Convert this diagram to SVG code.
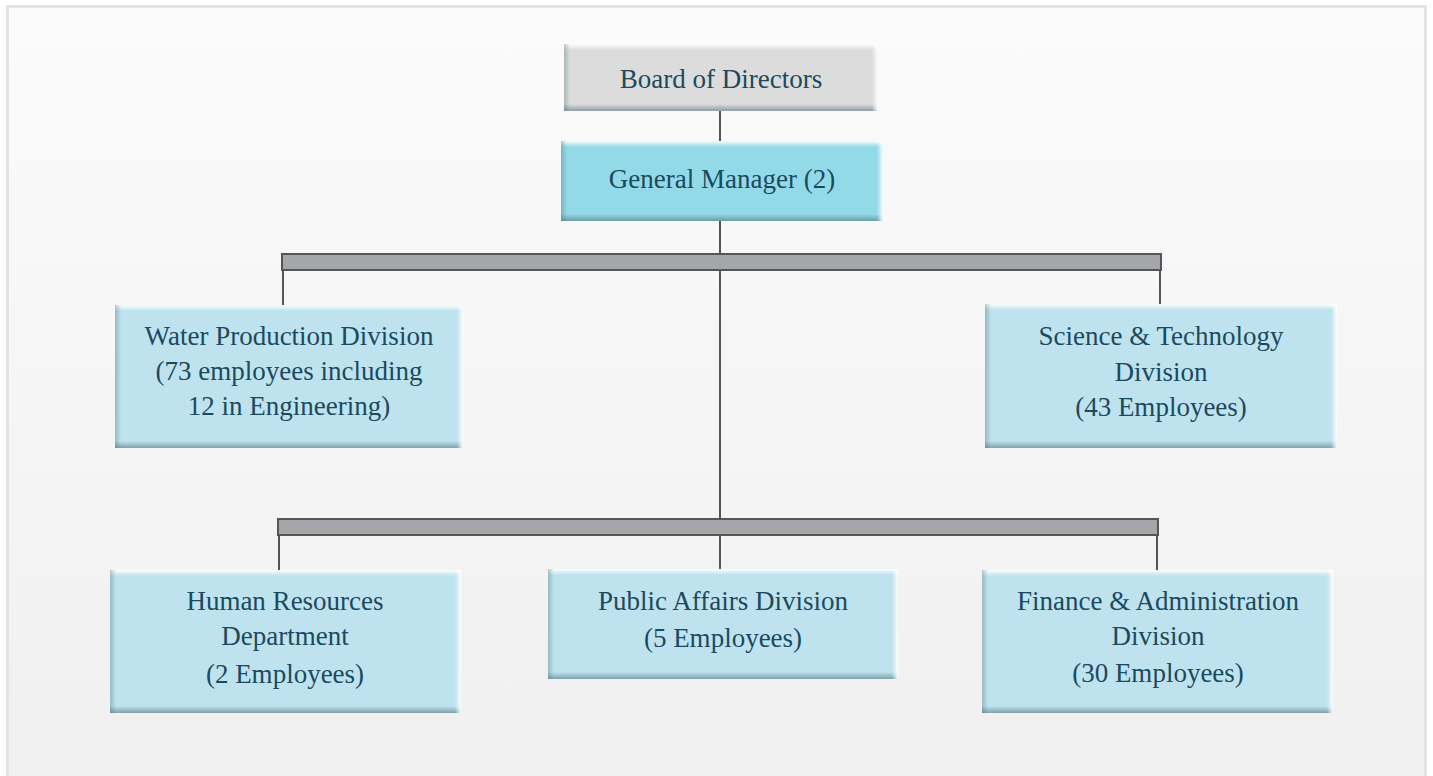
<svg xmlns="http://www.w3.org/2000/svg" width="1433" height="776" viewBox="0 0 1433 776">
  <defs>
    <linearGradient id="panelFill" x1="0" y1="0" x2="0" y2="1">
      <stop offset="0" stop-color="#fbfbfb"/>
      <stop offset="1" stop-color="#f0f0f0"/>
    </linearGradient>
    <!-- bevel edges -->
    <linearGradient id="edgeTop" x1="0" y1="0" x2="0" y2="1">
      <stop offset="0" stop-color="#ffffff" stop-opacity="0.95"/>
      <stop offset="1" stop-color="#ffffff" stop-opacity="0"/>
    </linearGradient>
    <linearGradient id="edgeBottom" x1="0" y1="0" x2="0" y2="1">
      <stop offset="0" stop-color="#4d6b74" stop-opacity="0"/>
      <stop offset="1" stop-color="#4d6b74" stop-opacity="0.55"/>
    </linearGradient>
    <linearGradient id="edgeLeft" x1="0" y1="0" x2="1" y2="0">
      <stop offset="0" stop-color="#4d6b74" stop-opacity="0.35"/>
      <stop offset="1" stop-color="#4d6b74" stop-opacity="0"/>
    </linearGradient>
    <linearGradient id="edgeRight" x1="0" y1="0" x2="1" y2="0">
      <stop offset="0" stop-color="#ffffff" stop-opacity="0"/>
      <stop offset="1" stop-color="#ffffff" stop-opacity="0.95"/>
    </linearGradient>
  </defs>
  <style>
    .lbl { font-family: "Liberation Serif", "Times New Roman", serif; font-size: 27px; fill: #1b4a5e; text-anchor: middle; }
    .gray { fill: #dcdcdc; }
    .cyan { fill: #92dae8; }
    .pale { fill: #bee3ee; }
    .wire { stroke: #555555; stroke-width: 2; fill: none; }
    .bar { fill: #a4a6a9; stroke: #555555; stroke-width: 2; }
  </style>

  <!-- page panel -->
  <rect x="0" y="0" width="1433" height="776" fill="#ffffff"/>
  <rect x="7.5" y="6.5" width="1418" height="772" fill="url(#panelFill)" stroke="#e3e3e3" stroke-width="3"/>

  <!-- connectors -->
  <g id="connectors">
    <line class="wire" x1="720" y1="110" x2="720" y2="142"/>
    <line class="wire" x1="720" y1="220" x2="720" y2="520"/>
    <rect class="bar" x="282" y="254" width="879" height="16"/>
    <line class="wire" x1="283" y1="270" x2="283" y2="306"/>
    <line class="wire" x1="1160" y1="270" x2="1160" y2="305"/>
    <rect class="bar" x="278" y="519" width="880" height="16"/>
    <line class="wire" x1="279" y1="535" x2="279" y2="571"/>
    <line class="wire" x1="720" y1="535" x2="720" y2="570"/>
    <line class="wire" x1="1157" y1="535" x2="1157" y2="571"/>
  </g>

  <g id="board">
    <rect class="gray" x="564" y="44" width="314" height="67"/>
    <rect x="564" y="44" width="314" height="6" fill="url(#edgeTop)"/>
    <rect x="564" y="104" width="314" height="7" fill="url(#edgeBottom)"/>
    <rect x="564" y="44" width="6" height="67" fill="url(#edgeLeft)"/>
    <rect x="872" y="44" width="6" height="67" fill="url(#edgeRight)"/>
    <text class="lbl" x="721" y="88">Board of Directors</text>
  </g>

  <g id="general-manager">
    <rect class="cyan" x="561" y="141" width="322" height="80"/>
    <rect x="561" y="141" width="322" height="6" fill="url(#edgeTop)"/>
    <rect x="561" y="214" width="322" height="7" fill="url(#edgeBottom)"/>
    <rect x="561" y="141" width="6" height="80" fill="url(#edgeLeft)"/>
    <rect x="877" y="141" width="6" height="80" fill="url(#edgeRight)"/>
    <text class="lbl" x="722" y="188">General Manager (2)</text>
  </g>

  <g id="water-production">
    <rect class="pale" x="115" y="305" width="348" height="143"/>
    <rect x="115" y="305" width="348" height="6" fill="url(#edgeTop)"/>
    <rect x="115" y="441" width="348" height="7" fill="url(#edgeBottom)"/>
    <rect x="115" y="305" width="6" height="143" fill="url(#edgeLeft)"/>
    <rect x="457" y="305" width="6" height="143" fill="url(#edgeRight)"/>
    <text class="lbl" x="289" y="345">Water Production Division</text>
    <text class="lbl" x="289" y="380">(73 employees including</text>
    <text class="lbl" x="289" y="415">12 in Engineering)</text>
  </g>

  <g id="science-technology">
    <rect class="pale" x="985" y="304" width="352" height="144"/>
    <rect x="985" y="304" width="352" height="6" fill="url(#edgeTop)"/>
    <rect x="985" y="441" width="352" height="7" fill="url(#edgeBottom)"/>
    <rect x="985" y="304" width="6" height="144" fill="url(#edgeLeft)"/>
    <rect x="1331" y="304" width="6" height="144" fill="url(#edgeRight)"/>
    <text class="lbl" x="1161" y="345">Science &amp; Technology</text>
    <text class="lbl" x="1161" y="381">Division</text>
    <text class="lbl" x="1161" y="416">(43 Employees)</text>
  </g>

  <g id="human-resources">
    <rect class="pale" x="110" y="570" width="351" height="143"/>
    <rect x="110" y="570" width="351" height="6" fill="url(#edgeTop)"/>
    <rect x="110" y="706" width="351" height="7" fill="url(#edgeBottom)"/>
    <rect x="110" y="570" width="6" height="143" fill="url(#edgeLeft)"/>
    <rect x="455" y="570" width="6" height="143" fill="url(#edgeRight)"/>
    <text class="lbl" x="285" y="610">Human Resources</text>
    <text class="lbl" x="285" y="645">Department</text>
    <text class="lbl" x="285" y="683">(2 Employees)</text>
  </g>

  <g id="public-affairs">
    <rect class="pale" x="548" y="569" width="350" height="110"/>
    <rect x="548" y="569" width="350" height="6" fill="url(#edgeTop)"/>
    <rect x="548" y="672" width="350" height="7" fill="url(#edgeBottom)"/>
    <rect x="548" y="569" width="6" height="110" fill="url(#edgeLeft)"/>
    <rect x="892" y="569" width="6" height="110" fill="url(#edgeRight)"/>
    <text class="lbl" x="723" y="610">Public Affairs Division</text>
    <text class="lbl" x="723" y="647">(5 Employees)</text>
  </g>

  <g id="finance-administration">
    <rect class="pale" x="982" y="570" width="351" height="143"/>
    <rect x="982" y="570" width="351" height="6" fill="url(#edgeTop)"/>
    <rect x="982" y="706" width="351" height="7" fill="url(#edgeBottom)"/>
    <rect x="982" y="570" width="6" height="143" fill="url(#edgeLeft)"/>
    <rect x="1327" y="570" width="6" height="143" fill="url(#edgeRight)"/>
    <text class="lbl" x="1158" y="610">Finance &amp; Administration</text>
    <text class="lbl" x="1158" y="645">Division</text>
    <text class="lbl" x="1158" y="682">(30 Employees)</text>
  </g>
</svg>
